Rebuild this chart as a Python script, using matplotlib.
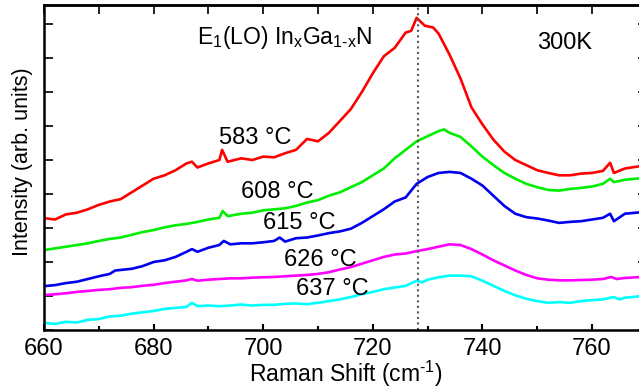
import numpy as np
import matplotlib.pyplot as plt
from matplotlib.ticker import MultipleLocator

plt.rcParams['font.family'] = ['Liberation Sans', 'DejaVu Sans']
plt.rcParams['mathtext.fontset'] = 'custom'
plt.rcParams['mathtext.rm'] = 'Liberation Sans'
plt.rcParams['mathtext.it'] = 'Liberation Sans'

# Spectra (Raman shift in cm-1, intensity in offset arb. units)
x583 = [660, 662, 664, 666, 668, 670, 672, 674, 676, 678, 680, 682, 684, 686, 687, 688, 690, 692, 692.5, 693.5,
        696, 698, 700, 702, 704, 706, 708, 710, 712, 714, 716, 718, 720, 722, 724, 726, 727, 728, 729.5, 731,
        732, 734, 736, 738, 740, 742, 744, 746, 748, 750, 752, 754, 756, 758, 760, 762, 763.3, 764, 766, 768, 770]
y583 = [3.29, 3.25, 3.40, 3.45, 3.55, 3.68, 3.78, 3.85, 4.05, 4.25, 4.45, 4.55, 4.70, 4.90, 4.95, 4.78, 4.90, 5.00, 5.30, 4.95,
        5.05, 5.00, 5.10, 5.08, 5.20, 5.30, 5.62, 5.55, 5.80, 6.15, 6.50, 7.00, 7.55, 8.05, 8.30, 8.75, 8.80, 9.18, 8.95, 8.90,
        8.72, 8.10, 7.40, 6.55, 6.05, 5.60, 5.25, 5.00, 4.85, 4.70, 4.62, 4.55, 4.55, 4.60, 4.62, 4.68, 4.92, 4.62, 4.75, 4.80, 4.85]

x608 = [660, 662, 664, 666, 668, 670, 672, 674, 676, 678, 680, 682, 684, 686, 688, 690, 692, 692.6, 693.5, 696,
        698, 700, 702, 704, 706, 708, 710, 712, 714, 716, 718, 720, 722, 724, 726, 728, 730, 732, 733, 734,
        736, 738, 740, 742, 744, 746, 748, 750, 752, 754, 756, 758, 760, 762, 763.3, 764, 766, 768, 770]
y608 = [2.35, 2.40, 2.45, 2.50, 2.55, 2.62, 2.68, 2.72, 2.80, 2.88, 2.94, 3.02, 3.08, 3.12, 3.18, 3.25, 3.30, 3.50, 3.35, 3.42,
        3.45, 3.52, 3.55, 3.58, 3.65, 3.75, 3.82, 3.95, 4.05, 4.20, 4.35, 4.55, 4.75, 5.05, 5.30, 5.55, 5.70, 5.85, 5.90, 5.80,
        5.68, 5.40, 5.10, 4.85, 4.62, 4.45, 4.30, 4.20, 4.12, 4.10, 4.15, 4.18, 4.22, 4.30, 4.45, 4.35, 4.42, 4.45, 4.48]

x615 = [660, 662, 664, 666, 668, 670, 672, 673, 676, 678, 680, 682, 684, 686, 687, 688, 690, 692, 692.8, 694,
        696, 698, 700, 702, 703, 704, 706, 708, 710, 712, 714, 716, 718, 720, 722, 724, 726, 728, 730, 732,
        734, 736, 738, 740, 742, 744, 746, 748, 750, 752, 754, 756, 758, 760, 762, 763.3, 764, 766, 768, 770]
y615 = [1.29, 1.32, 1.38, 1.42, 1.50, 1.58, 1.65, 1.75, 1.80, 1.88, 2.00, 2.05, 2.15, 2.30, 2.38, 2.30, 2.42, 2.50, 2.62, 2.52,
        2.55, 2.55, 2.58, 2.62, 2.72, 2.60, 2.70, 2.72, 2.78, 2.85, 2.90, 2.98, 3.15, 3.35, 3.55, 3.78, 3.90, 4.30, 4.50, 4.62,
        4.65, 4.62, 4.45, 4.25, 3.95, 3.65, 3.42, 3.32, 3.28, 3.22, 3.15, 3.18, 3.20, 3.25, 3.30, 3.42, 3.20, 3.42, 3.45, 3.48]

x626 = [660, 662, 664, 666, 668, 670, 672, 674, 676, 678, 680, 682, 684, 686, 687, 688, 690, 692, 694, 696,
        698, 700, 702, 704, 706, 708, 710, 712, 714, 716, 718, 720, 722, 724, 726, 728, 730, 732, 734, 736,
        738, 740, 742, 744, 746, 748, 750, 752, 754, 756, 758, 760, 762, 763.5, 764.5, 766, 768, 770]
y626 = [1.03, 1.05, 1.08, 1.12, 1.15, 1.18, 1.20, 1.24, 1.26, 1.30, 1.33, 1.38, 1.42, 1.46, 1.50, 1.45, 1.48, 1.50, 1.52, 1.52,
        1.54, 1.55, 1.56, 1.58, 1.60, 1.62, 1.65, 1.70, 1.78, 1.85, 1.95, 2.05, 2.15, 2.22, 2.25, 2.32, 2.38, 2.45, 2.52, 2.50,
        2.38, 2.22, 2.05, 1.90, 1.75, 1.62, 1.52, 1.48, 1.46, 1.46, 1.47, 1.48, 1.50, 1.56, 1.50, 1.53, 1.55, 1.56]

x637 = [660, 662, 664, 666, 668, 670, 672, 674, 676, 678, 680, 682, 684, 686, 687, 688, 690, 692, 694, 696,
        698, 700, 702, 704, 706, 708, 710, 712, 714, 716, 718, 720, 722, 724, 726, 728, 729, 730, 732, 734,
        736, 738, 740, 742, 744, 746, 748, 750, 752, 754, 756, 758, 760, 762, 764, 765, 766, 768, 770]
y637 = [0.21, 0.18, 0.24, 0.22, 0.30, 0.32, 0.40, 0.42, 0.48, 0.52, 0.56, 0.62, 0.65, 0.68, 0.80, 0.70, 0.72, 0.70, 0.72, 0.75,
        0.72, 0.74, 0.74, 0.77, 0.78, 0.76, 0.80, 0.85, 0.90, 0.97, 1.05, 1.12, 1.20, 1.25, 1.30, 1.45, 1.40, 1.48, 1.55, 1.60,
        1.60, 1.58, 1.45, 1.30, 1.15, 1.02, 0.92, 0.85, 0.80, 0.82, 0.80, 0.85, 0.88, 0.90, 0.97, 0.90, 0.95, 0.98, 1.00]

series = [(x583, y583, 'red', '583 °C', 692.0, 5.65),
          (x608, y608, '#00ee00', '608 °C', 696.0, 4.06),
          (x615, y615, '#0000ee', '615 °C', 700.0, 3.15),
          (x626, y626, 'magenta', '626 °C', 703.8, 2.06),
          (x637, y637, 'cyan', '637 °C', 706.0, 1.20)]

peak_pos = 728.2

fig = plt.figure(figsize=(6.39, 3.9), dpi=100)
ax = fig.add_axes([44 / 639, 60 / 390, 602.8 / 639, 325 / 390])

for xs, ys, col, lab, tx, ty in series:
    ax.plot(xs, ys, color=col, lw=1.9)
    ax.text(tx, ty, lab, fontsize=17, va='center', ha='left')

ax.axvline(peak_pos, color='0.35', ls=':', lw=1.5)

ax.text(688.0, 8.6, r'E$_1$(LO) In$_x$Ga$_{1\text{-}x}$N', fontsize=16.5, va='center', ha='left')
ax.text(750, 8.45, '300K', fontsize=17, va='center', ha='left')

ax.set_xlim(660, 770)
ax.set_ylim(0, 9.56)

ax.xaxis.set_major_locator(MultipleLocator(20))
ax.xaxis.set_minor_locator(MultipleLocator(10))
ax.yaxis.set_major_locator(MultipleLocator(1))
ax.set_yticklabels([])
ax.tick_params(axis='x', which='major', direction='in', length=4, width=1.5, labelsize=17, pad=6)
ax.tick_params(axis='x', which='minor', direction='in', length=3, width=1.5)
ax.tick_params(axis='y', which='major', direction='in', length=6.5, width=1.2, left=True, right=True)

top = ax.secondary_xaxis('top')
top.xaxis.set_major_locator(MultipleLocator(10))
top.tick_params(direction='in', length=6.5, width=1.2, labelsize=0, labeltop=False)
top.spines['top'].set_linewidth(1.8)

for s in ax.spines.values():
    s.set_linewidth(1.8)

ax.set_xlabel('Raman Shift (cm$^{\\text{-}1}$)', fontsize=16.5, labelpad=-1)
ax.set_ylabel('Intensity (arb. units)', fontsize=15.5)
ax.yaxis.set_label_coords(-0.018, 0.517)

plt.savefig('out.png', dpi=100)
